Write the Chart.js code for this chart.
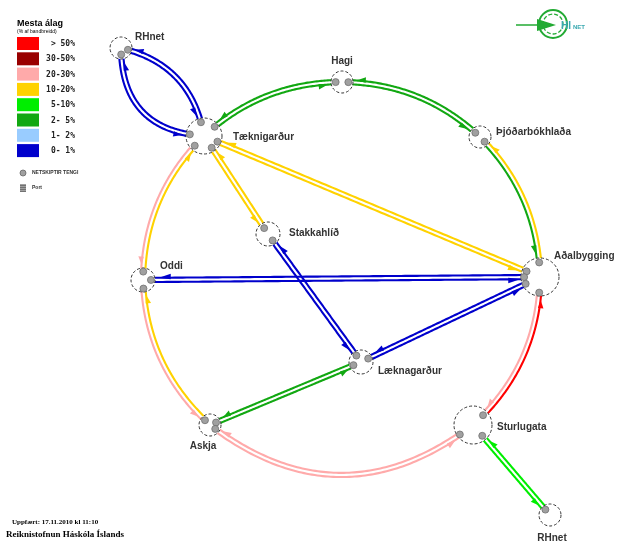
<!DOCTYPE html>
<html>
<head>
<meta charset="utf-8">
<script src="https://cdn.jsdelivr.net/npm/chart.js@4.4.0/dist/chart.umd.min.js"></script>
<style>
  html, body { margin: 0; padding: 0; background: #fff; }
  #wrap { width: 619px; height: 543px; }
</style>
</head>
<body>
<div id="wrap"><canvas id="netChart" width="619" height="543"></canvas></div>
<script>
// hnútar í netinu
const nodeNames = ['RHnet', 'Tæknigarður', 'Hagi', 'Þjóðarbókhlaða', 'Stakkahlíð', 'Oddi',
                   'Aðalbygging', 'Læknagarður', 'Askja', 'Sturlugata', 'RHnet'];
const nodeX = [121, 204, 342, 480, 268, 143, 540, 361, 210, 473, 550];
const nodeY = [48, 136, 82, 137, 234, 280, 277, 362, 425, 425, 515];
const nodeSize = [11, 18, 11, 11, 12, 12, 19, 12, 11, 19, 11];

// tengingar: frá -> til, álag í hvora átt
const linkFrom = [0, 0, 1, 2, 3, 1, 1, 1, 5, 5, 4, 7, 8, 8, 9, 9];
const linkTo   = [1, 1, 2, 3, 6, 6, 4, 5, 6, 8, 7, 6, 7, 9, 6, 10];
const loadAB = ['0- 1%', '0- 1%', '2- 5%', '2- 5%', '2- 5%', '10-20%', '10-20%', '20-30%',
                '0- 1%', '20-30%', '0- 1%', '0- 1%', '2- 5%', '20-30%', '> 50%', '5-10%'];
const loadBA = ['0- 1%', '0- 1%', '2- 5%', '2- 5%', '10-20%', '10-20%', '10-20%', '10-20%',
                '0- 1%', '10-20%', '0- 1%', '0- 1%', '2- 5%', '20-30%', '20-30%', '5-10%'];
const linkRing = [0, 0, 1, 1, 1, 0, 0, 1, 0, 1, 0, 0, 0, 1, 1, 0];
const linkBend = [-20, 28, 0, 0, 0, 0, 0, 0, 0, 0, 0, 0, 0, 0, 0, 0];

// litaskali
const legendLabels = ['> 50%', '30-50%', '20-30%', '10-20%', '5-10%', '2- 5%', '1- 2%', '0- 1%'];
const legendColors = ['#ff0000', '#990000', '#ffaaaa', '#ffd200', '#00ee00', '#12a812', '#99ccff', '#0000cc'];

const ringCenter = { x: 342, y: 279 };
const ringRadius = 198;

const labelPos = {
  dx:    [14, 29, 0, 16, 21, 17, 14, 17, -7, 24, 2],
  dy:    [-11, 1, -21, -5, -1, -14, -21, 9, 21, 2, 23],
  align: ['left', 'left', 'center', 'left', 'left', 'left', 'left', 'left', 'center', 'left', 'center']
};

function loadColor(lbl) {
  return legendColors[legendLabels.indexOf(lbl)];
}

function nodeImage(r) {
  const c = document.createElement('canvas');
  c.width = c.height = 2 * r + 4;
  const g = c.getContext('2d');
  g.beginPath();
  g.arc(r + 2, r + 2, r, 0, Math.PI * 2);
  g.fillStyle = '#fff';
  g.fill();
  g.setLineDash([3, 2]);
  g.strokeStyle = '#333';
  g.lineWidth = 1;
  g.stroke();
  return c;
}

function buildPaths(chart) {
  const sx = chart.scales.x, sy = chart.scales.y;
  const nodes = nodeX.map((x, i) => ({ x: sx.getPixelForValue(x), y: sy.getPixelForValue(nodeY[i]), r: nodeSize[i] }));
  const rc = { x: sx.getPixelForValue(ringCenter.x), y: sy.getPixelForValue(ringCenter.y) };
  const R = Math.abs(sx.getPixelForValue(ringRadius) - sx.getPixelForValue(0));
  return linkFrom.map((a, k) => {
    const A = nodes[a], B = nodes[linkTo[k]];
    const mx = (A.x + B.x) / 2, my = (A.y + B.y) / 2;
    const dx = B.x - A.x, dy = B.y - A.y, len = Math.hypot(dx, dy);
    let cx = mx, cy = my;
    if (linkRing[k]) {
      const half = len / 2;
      const s = R - Math.sqrt(Math.max(R * R - half * half, 0));
      const ox = mx - rc.x, oy = my - rc.y, ol = Math.hypot(ox, oy);
      cx = mx + 2 * s * ox / ol;
      cy = my + 2 * s * oy / ol;
    } else if (linkBend[k]) {
      cx = mx + 2 * linkBend[k] * (-dy / len);
      cy = my + 2 * linkBend[k] * (dx / len);
    }
    const pts = [];
    for (let i = 0; i <= 100; i++) {
      const t = i / 100, u = 1 - t;
      const x = u * u * A.x + 2 * u * t * cx + t * t * B.x;
      const y = u * u * A.y + 2 * u * t * cy + t * t * B.y;
      const tx = 2 * u * (cx - A.x) + 2 * t * (B.x - cx);
      const ty = 2 * u * (cy - A.y) + 2 * t * (B.y - cy);
      const tl = Math.hypot(tx, ty) || 1;
      pts.push({ x, y, nx: -ty / tl, ny: tx / tl });
    }
    return { A, B, pts, ab: loadColor(loadAB[k]), ba: loadColor(loadBA[k]) };
  });
}

// ein lína í eina átt, ör við endann
function drawDirected(ctx, pts, side, color, dest) {
  const g = 2.1;
  let seq = pts.map(p => ({ x: p.x + side * g * p.nx, y: p.y + side * g * p.ny, cx: p.x, cy: p.y, ox: side * p.nx, oy: side * p.ny }));
  if (side < 0) seq = seq.reverse();
  ctx.strokeStyle = color;
  ctx.lineWidth = 2.1;
  ctx.setLineDash([]);
  ctx.beginPath();
  seq.forEach((p, i) => i ? ctx.lineTo(p.x, p.y) : ctx.moveTo(p.x, p.y));
  ctx.stroke();

  let j = seq.findIndex(p => Math.hypot(p.cx - dest.x, p.cy - dest.y) < dest.r + 4);
  if (j < 1) j = seq.length - 1;
  const tip = seq[j];
  let b = j;
  while (b > 0 && Math.hypot(seq[b].x - tip.x, seq[b].y - tip.y) < 8) b--;
  const base = seq[b];
  ctx.fillStyle = color;
  ctx.beginPath();
  ctx.moveTo(tip.x, tip.y);
  ctx.lineTo(base.x + tip.ox * 4, base.y + tip.oy * 4);
  ctx.lineTo(base.x - tip.ox * 1.5, base.y - tip.oy * 1.5);
  ctx.closePath();
  ctx.fill();
}

function portAt(pts, node, fromStart) {
  const seq = fromStart ? pts : pts.slice().reverse();
  return seq.find(q => Math.hypot(q.x - node.x, q.y - node.y) >= node.r - 5) || seq[0];
}

const netPlugin = {
  id: 'netLinks',
  beforeDatasetsDraw(chart) {
    const ctx = chart.ctx;
    chart.$paths = buildPaths(chart);
    ctx.save();
    chart.$paths.forEach(L => {
      drawDirected(ctx, L.pts, 1, L.ab, L.B);
      drawDirected(ctx, L.pts, -1, L.ba, L.A);
    });
    ctx.restore();
  },
  afterDatasetsDraw(chart) {
    const ctx = chart.ctx, sx = chart.scales.x, sy = chart.scales.y;
    ctx.save();
    // tengi á hnútum
    chart.$paths.forEach(L => {
      [portAt(L.pts, L.A, true), portAt(L.pts, L.B, false)].forEach(p => {
        ctx.beginPath();
        ctx.arc(p.x, p.y, 3.5, 0, Math.PI * 2);
        ctx.fillStyle = '#a0a0a0';
        ctx.fill();
        ctx.strokeStyle = '#707070';
        ctx.lineWidth = 0.8;
        ctx.stroke();
      });
    });

    // nöfn hnúta
    ctx.font = 'bold 10px "Liberation Sans", Arial, sans-serif';
    ctx.fillStyle = '#333';
    ctx.textBaseline = 'middle';
    nodeNames.forEach((n, i) => {
      ctx.textAlign = labelPos.align[i];
      ctx.fillText(n, sx.getPixelForValue(nodeX[i]) + labelPos.dx[i], sy.getPixelForValue(nodeY[i]) + labelPos.dy[i]);
    });

    // skýringar
    ctx.textAlign = 'left';
    ctx.fillStyle = '#000';
    ctx.font = 'bold 9px "Liberation Sans", Arial, sans-serif';
    ctx.fillText('Mesta álag', 17, 24);
    ctx.font = '5px "Liberation Sans", Arial, sans-serif';
    ctx.fillText('(% af bandbreidd)', 17, 32);
    ctx.font = 'bold 8px "DejaVu Sans Mono", monospace';
    legendLabels.forEach((lbl, i) => {
      const y = 37 + i * 15.3;
      ctx.fillStyle = legendColors[i];
      ctx.fillRect(17, y, 22, 13);
      ctx.fillStyle = '#222';
      ctx.textAlign = 'right';
      ctx.fillText(lbl, 75, y + 7);
    });
    ctx.textAlign = 'left';
    ctx.beginPath();
    ctx.arc(23, 173, 3, 0, Math.PI * 2);
    ctx.fillStyle = '#a0a0a0';
    ctx.fill();
    ctx.strokeStyle = '#666';
    ctx.lineWidth = 0.8;
    ctx.stroke();
    ctx.fillStyle = '#a0a0a0';
    ctx.fillRect(20, 184, 6, 8);
    ctx.strokeStyle = '#666';
    for (let k = 0; k < 4; k++) {
      ctx.beginPath();
      ctx.moveTo(20, 185.5 + k * 2);
      ctx.lineTo(26, 185.5 + k * 2);
      ctx.stroke();
    }
    ctx.fillStyle = '#333';
    ctx.font = 'bold 5px "Liberation Sans", Arial, sans-serif';
    ctx.fillText('NETSKIPTIR TENGI', 32, 173);
    ctx.fillText('Port', 32, 188);

    // merki efst til hægri
    ctx.strokeStyle = '#22aa33';
    ctx.lineWidth = 2;
    ctx.beginPath();
    ctx.arc(553, 24, 14, 0, Math.PI * 2);
    ctx.stroke();
    ctx.lineWidth = 1.3;
    ctx.setLineDash([4, 2]);
    ctx.beginPath();
    ctx.arc(553, 24, 10, 0, Math.PI * 2);
    ctx.stroke();
    ctx.setLineDash([]);
    ctx.lineWidth = 1.5;
    ctx.beginPath();
    ctx.moveTo(516, 25);
    ctx.lineTo(540, 25);
    ctx.stroke();
    ctx.fillStyle = '#22aa33';
    ctx.beginPath();
    ctx.moveTo(537, 19);
    ctx.lineTo(556, 25);
    ctx.lineTo(537, 31);
    ctx.closePath();
    ctx.fill();
    ctx.fillStyle = '#3aa9b0';
    ctx.font = 'bold 10px "Liberation Sans", Arial, sans-serif';
    ctx.fillText('HI', 561, 26);
    ctx.font = 'bold 6px "Liberation Sans", Arial, sans-serif';
    ctx.fillText('NET', 573, 27);

    // fótur
    ctx.fillStyle = '#000';
    ctx.font = 'bold 7px "Liberation Serif", serif';
    ctx.fillText('Uppfært: 17.11.2010 kl 11:10', 12, 522);
    ctx.font = 'bold 9px "Liberation Serif", serif';
    ctx.fillText('Reiknistofnun Háskóla Íslands', 6, 535);
    ctx.restore();
  }
};

new Chart(document.getElementById('netChart').getContext('2d'), {
  type: 'scatter',
  data: {
    datasets: [{
      data: nodeX.map((x, i) => ({ x: x, y: nodeY[i] })),
      pointStyle: nodeSize.map(r => nodeImage(r)),
      pointRadius: nodeSize,
      showLine: false
    }]
  },
  options: {
    responsive: false,
    animation: false,
    layout: { padding: 0, autoPadding: false },
    scales: {
      x: { type: 'linear', min: 0, max: 619, display: false },
      y: { type: 'linear', min: 0, max: 543, reverse: true, display: false }
    },
    plugins: {
      legend: { display: false },
      tooltip: { enabled: false }
    }
  },
  plugins: [netPlugin]
});
</script>
</body>
</html>
